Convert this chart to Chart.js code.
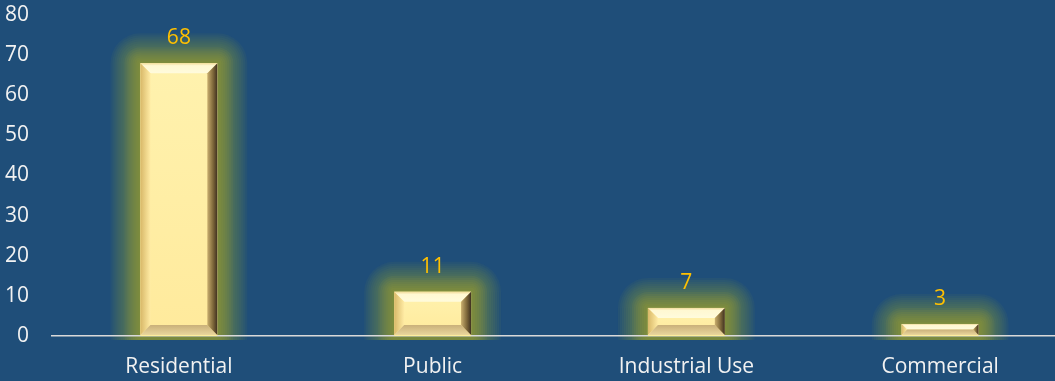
<!DOCTYPE html>
<html>
<head>
<meta charset="utf-8">
<script src="https://cdn.jsdelivr.net/npm/chart.js@4/dist/chart.umd.min.js"></script>
<style>
  html, body { margin: 0; padding: 0; background: #1F4E79; overflow: hidden; }
  #wrap { width: 1055px; height: 381px; overflow: hidden; position: relative; }
  canvas { display: block; }
</style>
</head>
<body>
<div id="wrap"><canvas id="c" width="1067" height="381"></canvas></div>
<script>
const categories = ['Residential', 'Public', 'Industrial Use', 'Commercial'];
const values = [68, 11, 7, 3];
const yTicks = [0, 10, 20, 30, 40, 50, 60, 70, 80];

const FONT = '"Open Sans", "Noto Sans", sans-serif';

function poly(ctx, pts, fill) {
  ctx.beginPath();
  ctx.moveTo(pts[0][0], pts[0][1]);
  for (let i = 1; i < pts.length; i++) ctx.lineTo(pts[i][0], pts[i][1]);
  ctx.closePath();
  ctx.fillStyle = fill;
  ctx.fill();
}

function rrect(ctx, x, y, w, h, r) {
  ctx.beginPath();
  ctx.moveTo(x + r, y);
  ctx.arcTo(x + w, y, x + w, y + h, r);
  ctx.arcTo(x + w, y + h, x, y + h, r);
  ctx.arcTo(x, y + h, x, y, r);
  ctx.arcTo(x, y, x + w, y, r);
  ctx.closePath();
}

const effects = {
  id: 'effects',
  beforeDraw(chart) {
    const ctx = chart.ctx;
    ctx.save();
    ctx.fillStyle = '#1F4E79';
    ctx.fillRect(0, 0, chart.width, chart.height);
    const area = chart.chartArea;
    ctx.beginPath();
    ctx.rect(0, 0, chart.width, area.bottom + 4);
    ctx.clip();
    const meta = chart.getDatasetMeta(0);
    meta.data.forEach(bar => {
      const x0 = bar.x - bar.width / 2, x1 = bar.x + bar.width / 2;
      const y0 = Math.min(bar.y, bar.base), y1 = Math.max(bar.y, bar.base);
      for (let e = 30; e >= 2; e -= 2) {
        ctx.fillStyle = 'rgba(160,168,48,' + (e > 16 ? 0.06 : 0.11) + ')';
        rrect(ctx, x0 - e, y0 - e, (x1 - x0) + 2 * e, (y1 - y0) + 2 * e, e);
        ctx.fill();
      }
    });
    ctx.restore();
  },
  afterDatasetsDraw(chart) {
    const ctx = chart.ctx;
    const meta = chart.getDatasetMeta(0);
    ctx.save();
    meta.data.forEach((bar, i) => {
      const x0 = bar.x - bar.width / 2, x1 = bar.x + bar.width / 2;
      const y0 = Math.min(bar.y, bar.base), y1 = Math.max(bar.y, bar.base) - 1;
      const w = x1 - x0, h = y1 - y0;
      const b = Math.min(10, h / 2, w / 2);
      let g = ctx.createLinearGradient(0, y0, 0, y1);
      g.addColorStop(0, '#FFF2AE');
      g.addColorStop(1, '#FFEA9C');
      ctx.fillStyle = g;
      ctx.fillRect(x0, y0, w, h);
      g = ctx.createLinearGradient(0, y0, 0, y0 + b);
      g.addColorStop(0, '#F2DC9A');
      g.addColorStop(0.25, '#FFF8D2');
      g.addColorStop(1, '#FFFBDC');
      poly(ctx, [[x0, y0], [x1, y0], [x1 - b, y0 + b], [x0 + b, y0 + b]], g);
      g = ctx.createLinearGradient(x0, 0, x0 + b, 0);
      g.addColorStop(0, '#D8B868');
      g.addColorStop(1, '#FFEBA4');
      poly(ctx, [[x0, y0], [x0 + b, y0 + b], [x0 + b, y1 - b], [x0, y1]], g);
      g = ctx.createLinearGradient(0, y1 - b, 0, y1);
      g.addColorStop(0, '#C9B07A');
      g.addColorStop(1, '#EAD69C');
      poly(ctx, [[x0, y1], [x0 + b, y1 - b], [x1 - b, y1 - b], [x1, y1]], g);
      g = ctx.createLinearGradient(x1 - b, 0, x1, 0);
      g.addColorStop(0, '#C9AE6E');
      g.addColorStop(0.6, '#7A6438');
      g.addColorStop(1, '#3E3020');
      poly(ctx, [[x1, y0], [x1, y1], [x1 - b, y1 - b], [x1 - b, y0 + b]], g);
      ctx.fillStyle = '#FFC000';
      ctx.font = '21px ' + FONT;
      ctx.textAlign = 'center';
      ctx.textBaseline = 'middle';
      ctx.fillText(String(values[i]), bar.x, y0 - 25);
    });
    ctx.restore();
  }
};

new Chart(document.getElementById('c'), {
  type: 'bar',
  data: {
    labels: categories,
    datasets: [{
      data: values,
      backgroundColor: '#FFEE9E',
      borderWidth: 0,
      barPercentage: 0.303,
      categoryPercentage: 1.0
    }]
  },
  options: {
    responsive: false,
    animation: false,
    events: [],
    layout: { padding: { top: 15, right: 0, left: 0, bottom: 0 } },
    plugins: { legend: { display: false }, tooltip: { enabled: false } },
    scales: {
      x: {
        grid: { display: false, drawTicks: false },
        border: { display: true, color: '#D9D9D9', width: 1.5 },
        ticks: { color: '#F2F2F2', font: { size: 21, family: FONT }, padding: 18, maxRotation: 0, autoSkip: false },
        afterFit(s) { s.height = 45; s.paddingLeft = 0; s.paddingRight = 0; }
      },
      y: {
        min: 0, max: 80,
        afterBuildTicks(s) { s.ticks = yTicks.map(v => ({ value: v })); },
        grid: { display: false, drawTicks: false },
        border: { display: false },
        ticks: { color: '#F2F2F2', font: { size: 21, family: FONT }, padding: 23 },
        afterFit(s) { s.width = 52; s.paddingTop = 0; s.paddingBottom = 0; }
      }
    }
  },
  plugins: [effects]
});
</script>
</body>
</html>
